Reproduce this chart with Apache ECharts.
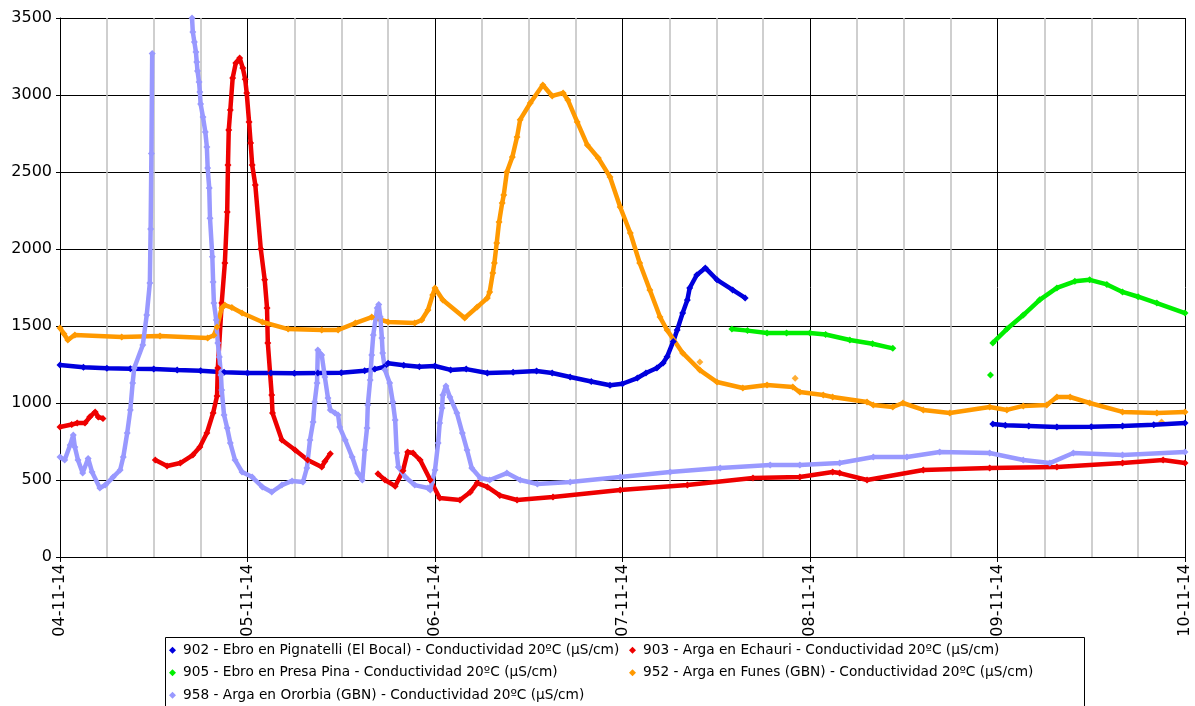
<!DOCTYPE html>
<html>
<head>
<meta charset="utf-8">
<script src="https://cdn.jsdelivr.net/npm/echarts@6/dist/echarts.min.js"></script>
<style>html,body{margin:0;padding:0;background:#fff;}#c{width:1195px;height:706px;}</style>
</head>
<body>
<div id="c"></div>
<script>
// x values are hours since 04-11-14 00:00
const tickLabels = ['04-11-14','05-11-14','06-11-14','07-11-14','08-11-14','09-11-14','10-11-14'];
const seriesNames = [
  '902 - Ebro en Pignatelli (El Bocal) - Conductividad 20ºC (µS/cm)',
  '903 - Arga en Echauri - Conductividad 20ºC (µS/cm)',
  '905 - Ebro en Presa Pina - Conductividad 20ºC (µS/cm)',
  '952 - Arga en Funes (GBN) - Conductividad 20ºC (µS/cm)',
  '958 - Arga en Ororbia (GBN) - Conductividad 20ºC (µS/cm)'
];
const data902 = [[0,1247],[3,1232],[6,1226],[9,1222],[12,1221],[15,1215],[18,1210],[21,1200],[24,1195],[27,1195],[30,1193],[33,1195],[36,1196],[39,1210],[40.3,1220],[41.5,1235],[42,1258],[44,1245],[46,1236],[48,1240],[50,1215],[52,1220],[54.7,1195],[58,1200],[61,1208],[63,1195],[65.3,1169],[68,1140],[70.4,1115],[72,1125],[73.9,1162],[75,1195],[76.4,1227],[77.2,1260],[77.7,1300],[78.5,1400],[79,1474],[79.7,1584],[80.3,1669],[80.6,1747],[81.5,1831],[82.6,1877],[84.1,1800],[86.1,1734],[87.7,1682],[100,null],[119.4,864],[121,855],[124,850],[127.6,844],[132,846],[136,851],[140,858],[144,870]];
const data903 = [[0,844],[1.5,860],[2.2,870],[3.2,870],[3.8,909],[4.5,942],[4.9,909],[5.5,900],[8,null],[12.2,630],[13.7,591],[15.4,610],[17,662],[17.9,714],[18.8,805],[19.6,935],[20.1,1045],[20.2,1227],[20.7,1650],[21.1,1909],[21.4,2240],[21.5,2545],[21.6,2773],[21.8,2903],[22.1,3110],[22.5,3207],[23.0,3240],[23.4,3175],[23.7,3103],[23.9,3013],[24.2,2825],[24.4,2688],[24.6,2545],[25.0,2416],[25.7,2000],[26.2,1800],[26.5,1617],[26.6,1390],[27.1,1052],[27.2,935],[28.4,760],[30.1,695],[31.7,630],[33.5,584],[33.9,620],[34.6,670],[37,null],[40.7,540],[41.6,500],[42.9,460],[43.9,560],[44.5,682],[45.2,675],[46.1,630],[47.4,500],[48.6,383],[51.2,370],[52.5,420],[53.4,480],[54.7,455],[56.3,400],[58.5,370],[63.1,390],[71.7,435],[80.3,467],[88.7,513],[94.7,519],[98.9,552],[99.8,545],[103.3,500],[110.5,565],[119,578],[127.6,584],[136,610],[141.2,630],[144,610]];
const data905 = [[86,1480],[88,1470],[90.5,1455],[93,1455],[96,1455],[98,1445],[101.1,1409],[104,1385],[106.6,1355],[110,null],[119.1,1182],[119.25,null],[119.4,1390],[121.2,1480],[123.3,1571],[125.4,1670],[127.6,1747],[129.9,1790],[131.8,1800],[134,1770],[136,1721],[138,1690],[140.4,1649],[144,1584]];
const data952 = [[0,1487],[0.5,1450],[1.0,1409],[1.9,1442],[7.9,1429],[12.8,1435],[18.9,1422],[19.7,1440],[20.1,1494],[20.7,1617],[21.1,1636],[22,1620],[23.3,1584],[25.9,1526],[29.2,1480],[33.5,1474],[35.6,1474],[37.8,1519],[39.9,1558],[42,1526],[45.4,1519],[46.3,1539],[47.1,1604],[47.7,1701],[48.0,1747],[49.0,1669],[51.8,1552],[53.4,1623],[54.7,1682],[55.0,1721],[55.4,1844],[55.6,1909],[55.9,2039],[56.2,2175],[56.6,2299],[56.8,2351],[57.2,2500],[57.9,2597],[58.5,2727],[58.9,2840],[60.2,2948],[61.8,3065],[63.0,2994],[64.4,3013],[65.0,2968],[66.2,2825],[67.5,2675],[68.9,2591],[70.4,2468],[71.7,2273],[73.0,2104],[74.2,1909],[75.5,1734],[76.8,1558],[77.7,1474],[79.7,1325],[81.9,1214],[84.1,1136],[87.4,1097],[90.5,1117],[93.8,1104],[94.7,1071],[97.7,1052],[98.9,1039],[103.3,1006],[104.1,987],[106.6,974],[107.9,1000],[110.5,955],[113.9,935],[119,974],[121.2,955],[123.3,981],[126.3,987],[127.6,1039],[129.3,1039],[131.8,1000],[136,942],[140.4,935],[144,942]];
const data952Isolated = [[81.9,1266],[94.1,1160],[141,877]];
const data958 = [[0,649],[0.6,630],[1.3,727],[1.7,792],[1.9,714],[2.3,630],[2.9,545],[3.6,640],[4.1,552],[5.1,448],[5.8,467],[6.8,519],[7.7,565],[8.1,649],[8.6,805],[9.0,955],[9.3,1130],[9.5,1227],[10.6,1377],[11.1,1571],[11.5,1779],[11.6,2130],[11.7,2620],[11.8,3270],[14,null],[16.9,3500],[17.0,3409],[17.2,3344],[17.4,3279],[17.5,3214],[17.6,3156],[17.8,3084],[17.9,3019],[18.0,2941],[18.3,2857],[18.6,2760],[18.8,2662],[18.9,2526],[19.1,2396],[19.2,2200],[19.5,1950],[19.6,1786],[19.7,1649],[20.0,1539],[20.2,1390],[20.4,1299],[20.6,1182],[20.7,1084],[21.0,922],[21.4,838],[21.8,740],[22.4,630],[23.3,552],[24.6,519],[25.9,455],[27.1,422],[28.4,467],[29.7,494],[31.1,487],[31.6,578],[32,760],[32.4,877],[32.6,1006],[32.9,1130],[33.0,1344],[33.5,1312],[33.9,1169],[34.3,1032],[34.6,955],[35.2,935],[35.6,922],[35.8,844],[36.5,760],[37.4,649],[38.1,545],[38.7,500],[39.0,695],[39.3,838],[39.4,987],[39.7,1149],[39.9,1312],[40.1,1442],[40.6,1617],[40.8,1640],[41.0,1558],[41.2,1422],[41.3,1325],[41.6,1214],[42.2,1130],[42.6,1006],[42.9,890],[43.1,675],[43.3,584],[44.2,519],[45.4,467],[47.1,448],[47.4,435],[48,565],[48.4,740],[48.6,870],[48.9,967],[49.0,1052],[49.4,1110],[49.9,1039],[50.8,935],[51.5,805],[52.1,695],[52.7,578],[53.8,513],[55,500],[57.2,545],[58.9,500],[61.1,474],[65.3,487],[71.7,519],[78.1,552],[84.5,578],[90.9,597],[94.7,597],[99.8,610],[104.1,649],[108.4,649],[112.6,682],[119,675],[123.3,630],[126.7,610],[129.7,675],[136,662],[144,682]];
const colors = ['#0000dd','#ee0000','#00ee00','#ff9900','#9999ff'];

const chart = echarts.init(document.getElementById('c'), null, {renderer:'canvas'});
const FONT = 'DejaVu Sans';
function lineSeries(name, data, color) {
  return {
    name: name, type: 'line', data: data, color: color,
    symbol: 'diamond', symbolSize: 7, showSymbol: true, showAllSymbol: true,
    itemStyle: {color: color, borderWidth: 0},
    lineStyle: {color: color, width: 4.5},
    connectNulls: false, animation: false, silent: true
  };
}
const series = [
  lineSeries(seriesNames[0], data902, colors[0]),
  lineSeries(seriesNames[1], data903, colors[1]),
  lineSeries(seriesNames[2], data905, colors[2]),
  lineSeries(seriesNames[3], data952, colors[3]),
  {name: seriesNames[3], type: 'scatter', data: data952Isolated, symbol: 'diamond', symbolSize: 7,
   itemStyle: {color: colors[3]}, animation: false, silent: true},
  lineSeries(seriesNames[4], data958, colors[4])
];
const legendCommon = {
  orient: 'vertical', icon: 'diamond', itemWidth: 7, itemHeight: 7, itemGap: 6,
  padding: 0, z: 20, selectedMode: false,
  textStyle: {fontFamily: FONT, fontSize: 13.7, color: '#000', lineHeight: 16.5, padding: [0, 0, 0, 2]}
};
chart.setOption({
  animation: false,
  backgroundColor: '#fff',
  grid: {left: 60, right: 10, top: 18, bottom: 149, containLabel: false},
  xAxis: {
    type: 'value', min: 0, max: 144, interval: 24,
    axisLine: {show: true, onZero: false, lineStyle: {color: '#000', width: 1}},
    axisTick: {show: true, length: 5, lineStyle: {color: '#000'}},
    splitLine: {show: true, lineStyle: {color: '#000', width: 1}},
    minorTick: {show: false, splitNumber: 4},
    minorSplitLine: {show: true, lineStyle: {color: '#c0c0c0', width: 1.5}},
    axisLabel: {rotate: 90, margin: 7, fontFamily: FONT, fontSize: 16, color: '#000',
      formatter: v => tickLabels[Math.round(v / 24)]}
  },
  yAxis: {
    type: 'value', min: 0, max: 3500, interval: 500,
    axisLine: {show: true, lineStyle: {color: '#000', width: 1}},
    axisTick: {show: true, length: 4, lineStyle: {color: '#000'}},
    splitLine: {show: true, lineStyle: {color: '#000', width: 1}},
    axisLabel: {margin: 8, fontFamily: FONT, fontSize: 16, color: '#000',
      formatter: v => String(v)}
  },
  legend: [
    Object.assign({}, legendCommon, {left: 169, top: 642, data: [seriesNames[0], seriesNames[2], seriesNames[4]]}),
    Object.assign({}, legendCommon, {left: 629, top: 642, data: [seriesNames[1], seriesNames[3]]})
  ],
  graphic: [{
    type: 'rect', z: 10, silent: true,
    shape: {x: 165.5, y: 637.5, width: 919, height: 100},
    style: {fill: '#fff', stroke: '#000', lineWidth: 1}
  }],
  series: series
});
</script>
</body>
</html>
